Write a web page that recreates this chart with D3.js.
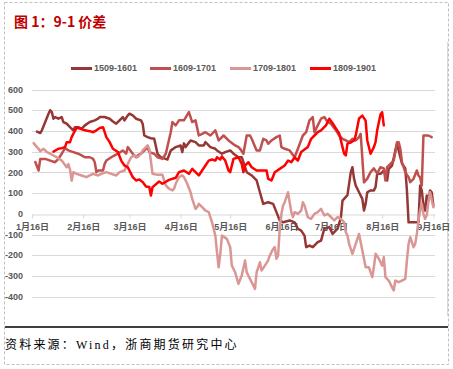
<!DOCTYPE html>
<html><head><meta charset="utf-8">
<script src="https://cdn.jsdelivr.net/npm/d3@7"></script>
<style>
html,body{margin:0;padding:0;background:#fff;}
svg{display:block;}
</style></head><body>
<svg id="chart" width="453" height="369"></svg>
<script>
// ---------------- data ----------------
const titleText = "图 1：9-1 价差";
const sourceText = "资料来源：Wind，浙商期货研究中心";
const seriesNames = ["1509-1601", "1609-1701", "1709-1801", "1809-1901"];

const dates1509 = ["01-19","01-21","01-22","01-24","01-26","01-27","01-28","01-29","01-30","02-01",
"02-03","02-04","02-06","02-08","02-10","02-11","02-13","02-15","02-17","02-20",
"02-23","02-25","02-26","03-01","03-04","03-06","03-08","03-10","03-12","03-13",
"03-15","03-16","03-18","03-20","03-23","03-24","03-25","03-27","03-29","03-31",
"04-02","04-04","04-07","04-08","04-10","04-13","04-16","04-17","04-18","04-19",
"04-22","04-25","04-27","04-30","05-01","05-04","05-07","05-08","05-11","05-13",
"05-16","05-18","05-21","05-23","05-26","05-29","06-01","06-03","06-05","06-08",
"06-11","06-13","06-15","06-17","06-21","06-24","06-26","06-28","06-30","07-01",
"07-03","07-05","07-08","07-10","07-12","07-15","07-17","07-20","07-22","07-23",
"07-26","07-28","07-29","07-30","07-31","08-02","08-04","08-05","08-06","08-07",
"08-09","08-11","08-12","08-13","08-15","08-17","08-19","08-20","08-22","08-24",
"08-25","08-27","08-28","08-30","08-31","09-01","09-05","09-07","09-08","09-09",
"09-10","09-11","09-12","09-13","09-14","09-15","09-16"];
const values1509 = [397,390,403,443,483,500,491,459,467,459,
467,443,435,418,403,418,418,410,427,443,
451,459,467,467,459,446,435,451,467,451,
475,483,475,459,451,435,378,370,365,362,
290,273,265,262,305,322,330,298,340,322,
354,346,330,330,346,322,314,306,290,298,
306,290,273,273,201,185,161,104,48,56,
48,8,-32,-41,-32,-41,-72,-81,-105,-161,
-153,-161,-137,-129,-72,-64,-97,-72,-20,64,
90,200,225,169,137,104,72,16,48,104,
113,113,129,193,193,209,161,217,233,306,
338,273,243,219,113,-41,-41,-41,137,113,
40,16,88,64,113,104,40];

const dates1609 = ["01-18","01-20","01-21","01-24","01-27","01-30","02-01","02-03","02-05","02-07",
"02-10","02-13","02-15","02-17","02-20","02-22","02-23","02-24","02-25","02-28",
"03-01","03-02","03-05","03-07","03-09","03-12","03-14","03-15","03-18","03-20",
"03-21","03-23","03-24","03-26","03-27","03-28","03-31","04-02","04-05","04-07",
"04-10","04-11","04-13","04-15","04-18","04-21","04-23","04-25","04-27","04-29",
"05-01","05-04","05-07","05-09","05-12","05-15","05-19","05-21","05-22","05-24",
"05-26","05-28","05-29","06-01","06-03","06-05","06-07","06-08","06-10","06-13",
"06-15","06-16","06-18","06-21","06-24","06-26","06-29","07-01","07-03","07-05",
"07-06","07-08","07-10","07-12","07-14","07-16","07-19","07-21","07-23","07-25",
"07-27","07-29","07-31","08-02","08-03","08-05","08-07","08-09","08-11","08-13",
"08-15","08-17","08-18","08-19","08-21","08-23","08-24","08-25","08-26","08-27",
"08-28","08-30","09-01","09-02","09-04","09-06","09-07","09-08","09-09","09-10",
"09-13","09-15"];
const values1609 = [250,209,265,265,257,249,265,290,317,306,
298,290,282,273,273,265,249,201,209,209,
241,257,273,282,290,306,290,322,290,273,
282,290,298,314,322,298,290,273,265,290,
394,443,427,451,451,491,443,451,378,386,
394,378,403,354,378,354,330,322,314,290,
378,378,362,306,306,362,354,338,354,370,
378,322,314,306,273,314,378,394,451,467,
394,427,459,467,443,435,403,378,362,354,
346,362,354,370,386,152,170,201,219,195,
225,219,161,225,241,257,298,346,346,314,
249,201,177,153,169,209,185,175,137,378,
378,370];

const dates1709 = ["01-17","01-19","01-20","01-21","01-23","01-25","01-27","01-31","02-03","02-06",
"02-07","02-08","02-09","02-10","02-12","02-15","02-18","02-20","02-22","02-25",
"02-27","03-02","03-05","03-08","03-10","03-13","03-15","03-17","03-19","03-21",
"03-23","03-24","03-26","03-27","03-28","03-30","04-02","04-05","04-06","04-07",
"04-09","04-11","04-12","04-13","04-15","04-17","04-18","04-20","04-22","04-23",
"04-25","04-26","04-27","04-29","05-01","05-03","05-05","05-07","05-08","05-09",
"05-10","05-11","05-14","05-16","05-17","05-19","05-21","05-23","05-25","05-26",
"05-28","05-30","05-31","06-01","06-02","06-03","06-04","06-06","06-08","06-09",
"06-11","06-12","06-13","06-14","06-15","06-16","06-17","06-18","06-20","06-21",
"06-22","06-23","06-24","06-26","06-28","06-29","06-30","07-02","07-04","07-06",
"07-08","07-10","07-12","07-14","07-16","07-18","07-20","07-22","07-24","07-25",
"07-26","07-27","07-29","07-31","08-02","08-04","08-06","08-08","08-10","08-11",
"08-12","08-14","08-16","08-17","08-18","08-20","08-22","08-23","08-24","08-26",
"08-28","08-30","08-31","09-01","09-02","09-03","09-04","09-05","09-06","09-07",
"09-08","09-09","09-10","09-11","09-12","09-13","09-14","09-16"];
const values1709 = [341,322,314,302,314,298,290,273,257,225,
240,215,160,201,193,185,177,185,193,185,
193,201,193,185,201,209,241,273,282,273,
290,306,322,330,314,193,188,188,161,137,
121,113,121,145,177,185,177,145,104,72,
24,32,48,32,16,8,-41,-105,-185,-258,
-193,-105,-121,-161,-250,-282,-338,-298,-225,-282,
-314,-346,-362,-282,-258,-234,-274,-250,-225,-201,
-169,-161,-217,-201,-72,0,40,56,104,56,
8,-16,8,0,16,56,40,-16,-24,0,
8,24,-8,0,-16,-32,-16,-24,-41,-89,
-105,-145,-193,-145,-97,-177,-258,-258,-306,-258,
-193,-217,-250,-209,-306,-322,-355,-370,-322,-330,
-322,-314,-225,-145,-113,-137,-161,-145,-97,-32,
16,48,0,-24,-8,56,104,32];

const dates1809 = ["01-29","02-01","02-03","02-05","02-06","02-08","02-09","02-10","02-12","02-14",
"02-17","02-20","02-22","02-24","02-26","02-28","03-02","03-04","03-06","03-09",
"03-11","03-13","03-15","03-18","03-20","03-22","03-24","03-26","03-28","03-29",
"03-30","04-03","04-05","04-09","04-13","04-15","04-18","04-21","04-23","04-25",
"04-27","04-29","05-01","05-03","05-05","05-07","05-08","05-10","05-11","05-13",
"05-15","05-16","05-18","05-21","05-23","05-24","05-25","05-27","05-29","06-01",
"06-04","06-07","06-08","06-10","06-12","06-15","06-18","06-20","06-22","06-24",
"06-26","06-28","07-02","07-04","07-06","07-08","07-10","07-13","07-15","07-17",
"07-19","07-21","07-23","07-24","07-25","07-26","07-28","07-30","07-31","08-02",
"08-04","08-06","08-07","08-09","08-11","08-12","08-13","08-15","08-16","08-17"];
const values1809 = [300,314,317,322,346,346,370,386,415,411,
403,399,394,403,414,418,370,346,314,298,
257,233,225,177,161,166,153,132,129,88,
129,156,145,164,174,201,209,193,217,201,
185,209,233,257,262,257,273,262,277,257,
209,201,265,273,241,201,233,249,225,209,
209,209,169,161,201,217,233,257,249,273,
257,298,322,362,378,394,403,427,459,437,
412,388,322,290,282,339,344,354,378,460,
474,450,354,290,322,346,403,479,490,427];

const yTicks = [600, 500, 400, 300, 200, 100, 0, -100, -200, -300, -400];
const xTickDates = ["01-16","02-16","03-16","04-16","05-16","06-16","07-16","08-16","09-16"];
const xTickLabels = ["1月16日","2月16日","3月16日","4月16日","5月16日","6月16日","7月16日","8月16日","9月16日"];
const xDomain = ["01-16", "09-17"];

// ---------------- styles ----------------
const colors = ["#953735", "#C0504D", "#D99694", "#FF0000"];
const labelFont = "'Liberation Sans','Noto Sans CJK SC',sans-serif";

const parse = s => d3.timeParse("%Y-%m-%d")("2019-" + s);
const seriesData = [
  dates1509.map((d, i) => ({date: parse(d), value: values1509[i]})),
  dates1609.map((d, i) => ({date: parse(d), value: values1609[i]})),
  dates1709.map((d, i) => ({date: parse(d), value: values1709[i]})),
  dates1809.map((d, i) => ({date: parse(d), value: values1809[i]}))
];

const svg = d3.select("#chart");

// outer dashed frame
svg.append("rect").attr("x", 4.5).attr("y", 2.5).attr("width", 444).attr("height", 362)
  .attr("fill", "none").attr("stroke", "#BFBFBF").attr("stroke-dasharray", "3,2");

// title
svg.append("text").attr("x", 14).attr("y", 27).text(titleText)
  .attr("font-family", "'Noto Sans CJK SC','Liberation Sans',sans-serif")
  .attr("font-weight", "bold").attr("font-size", 14).attr("fill", "#C00000");

// chart right border line
svg.append("line").attr("x1", 447.5).attr("x2", 447.5).attr("y1", 42).attr("y2", 316)
  .attr("stroke", "#D9D9D9").attr("stroke-width", 1);

const x = d3.scaleTime().domain(xDomain.map(parse)).range([32, 435]);
const y = d3.scaleLinear().domain([-400, 600]).range([296.7, 89.5]);

// gridlines
svg.append("g").selectAll("line").data(yTicks.filter(v => v !== 0)).join("line")
  .attr("x1", 32).attr("x2", 435)
  .attr("y1", d => Math.round(y(d)) + 0.5).attr("y2", d => Math.round(y(d)) + 0.5)
  .attr("stroke", "#D9D9D9").attr("stroke-width", 1);

// y labels
svg.append("g").selectAll("text").data(yTicks).join("text")
  .attr("x", 23).attr("y", d => y(d)).attr("dy", "0.35em")
  .attr("text-anchor", "end").text(d => d)
  .attr("font-family", labelFont).attr("font-weight", "bold")
  .attr("font-size", 9).attr("fill", "#595959");

// x axis at zero
const xAxis = d3.axisBottom(x)
  .tickValues(xTickDates.map(parse))
  .tickFormat((d, i) => xTickLabels[i])
  .tickSize(4).tickPadding(5).tickSizeOuter(0);
const gx = svg.append("g").attr("transform", `translate(0,${Math.round(y(0)) + 0.5})`).call(xAxis);
gx.select(".domain").attr("stroke", "#D9D9D9");
gx.selectAll(".tick line").attr("stroke", "#D9D9D9");
gx.selectAll(".tick text").attr("font-family", labelFont).attr("font-weight", "bold")
  .attr("font-size", 9).attr("fill", "#595959");

// lines
const line = d3.line().x(d => x(d.date)).y(d => y(d.value));
svg.append("g").selectAll("path").data(seriesData).join("path")
  .attr("d", line).attr("fill", "none")
  .attr("stroke", (d, i) => colors[i]).attr("stroke-width", 2.5)
  .attr("stroke-linejoin", "round").attr("stroke-linecap", "round");

// legend
const legendX = [71, 150, 230, 310];
const lg = svg.append("g").selectAll("g").data(seriesNames).join("g")
  .attr("transform", (d, i) => `translate(${legendX[i]},68)`);
lg.append("line").attr("x1", 0).attr("x2", 21).attr("y1", 0.5).attr("y2", 0.5)
  .attr("stroke", (d, i) => colors[i]).attr("stroke-width", 3);
lg.append("text").attr("x", 23).attr("y", 0).attr("dy", "0.35em").text(d => d)
  .attr("font-family", labelFont).attr("font-weight", "bold")
  .attr("font-size", 9).attr("fill", "#595959");

// bottom rule and source
svg.append("line").attr("x1", 5).attr("x2", 448).attr("y1", 327).attr("y2", 327)
  .attr("stroke", "#000").attr("stroke-width", 1.5);
svg.append("text").attr("x", 5).attr("y", 349).text(sourceText)
  .attr("font-family", "'Liberation Serif','Noto Sans CJK SC',serif")
  .attr("font-size", 12).attr("letter-spacing", 2.2).attr("fill", "#000");
</script>
</body></html>
